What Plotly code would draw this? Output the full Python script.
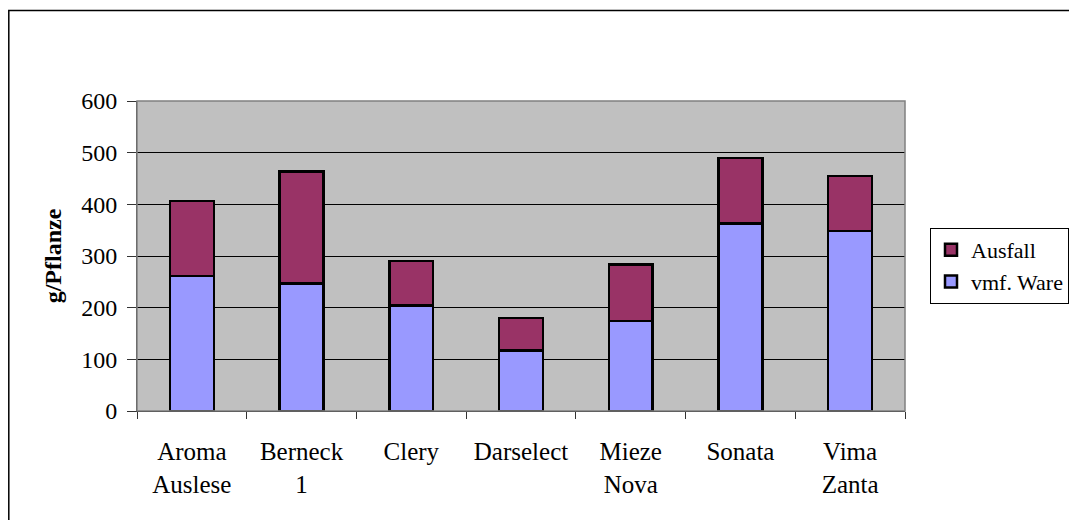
import plotly.graph_objects as go

categories = ["Aroma<br>Auslese", "Berneck<br>1", "Clery", "Darselect", "Mieze<br>Nova", "Sonata", "Vima<br>Zanta"]
vmf_ware = [261, 247, 204, 117, 174, 363, 348]
ausfall = [145, 217, 86, 63, 110, 127, 107]
y_ticks = [0, 100, 200, 300, 400, 500, 600]

FONT = "Liberation Serif, Times New Roman, serif"

fig = go.Figure()
fig.add_trace(go.Bar(
    name="vmf. Ware", x=categories, y=vmf_ware,
    marker=dict(color="#9999FF", line=dict(color="black", width=2.5)),
    width=0.4,
))
fig.add_trace(go.Bar(
    name="Ausfall", x=categories, y=ausfall,
    marker=dict(color="#993366", line=dict(color="black", width=2.5)),
    width=0.4,
))

# the page body has an 8px margin; the figure is sized to fill the rest of the window
OFF = 8
W, H = 1077 - OFF, 520 - OFF
L, R, T, B = 137 - OFF, 1077 - 905, 101 - OFF, 520 - 411
pw = W - L - R
ph = H - T - B

fig.update_layout(
    width=W, height=H,
    barmode="stack",
    margin=dict(l=L, r=R, t=T, b=B, autoexpand=False),
    paper_bgcolor="white",
    plot_bgcolor="#C0C0C0",
    font=dict(family=FONT, size=24, color="black"),
    showlegend=True,
    legend=dict(
        x=(930 - OFF - L) / pw, y=(H - B - (228 - OFF)) / ph,
        xanchor="left", yanchor="top",
        traceorder="reversed",
        bgcolor="white", bordercolor="black", borderwidth=1,
        font=dict(family=FONT, size=22, color="black"),
        itemwidth=30,
    ),
)

fig.update_yaxes(
    range=[0, 600],
    tickvals=y_ticks,
    ticktext=[str(v) for v in y_ticks],
    showgrid=True, gridcolor="black", gridwidth=1,
    zeroline=False,
    showline=True, linecolor="#333333", linewidth=1,
    ticks="outside", ticklen=9, tickcolor="#333333",
    ticklabelstandoff=5,
    tickfont=dict(family=FONT, size=24),
    title=dict(text="<b>g/Pflanze</b>", font=dict(family=FONT, size=24), standoff=12),
)
fig.update_xaxes(
    showgrid=False,
    showline=True, linecolor="black", linewidth=1,
    ticks="outside", ticklen=7, tickcolor="#333333",
    tickson="boundaries",
    ticklabelstandoff=18,
    tickfont=dict(family=FONT, size=25),
)

# plot area border (gray)
fig.add_shape(type="rect", xref="paper", yref="paper", x0=0, y0=0, x1=1, y1=1,
              line=dict(color="#808080", width=1.5), fillcolor="rgba(0,0,0,0)", layer="above")
# outer chart border (only top and left visible, extends past the window)
fig.add_shape(type="rect", xref="paper", yref="paper",
              x0=(0.8 - L) / pw, y0=-2, x1=2, y1=(H - B - 2.5) / ph,
              line=dict(color="black", width=1.5), fillcolor="rgba(0,0,0,0)")

fig.write_html("out.html")
